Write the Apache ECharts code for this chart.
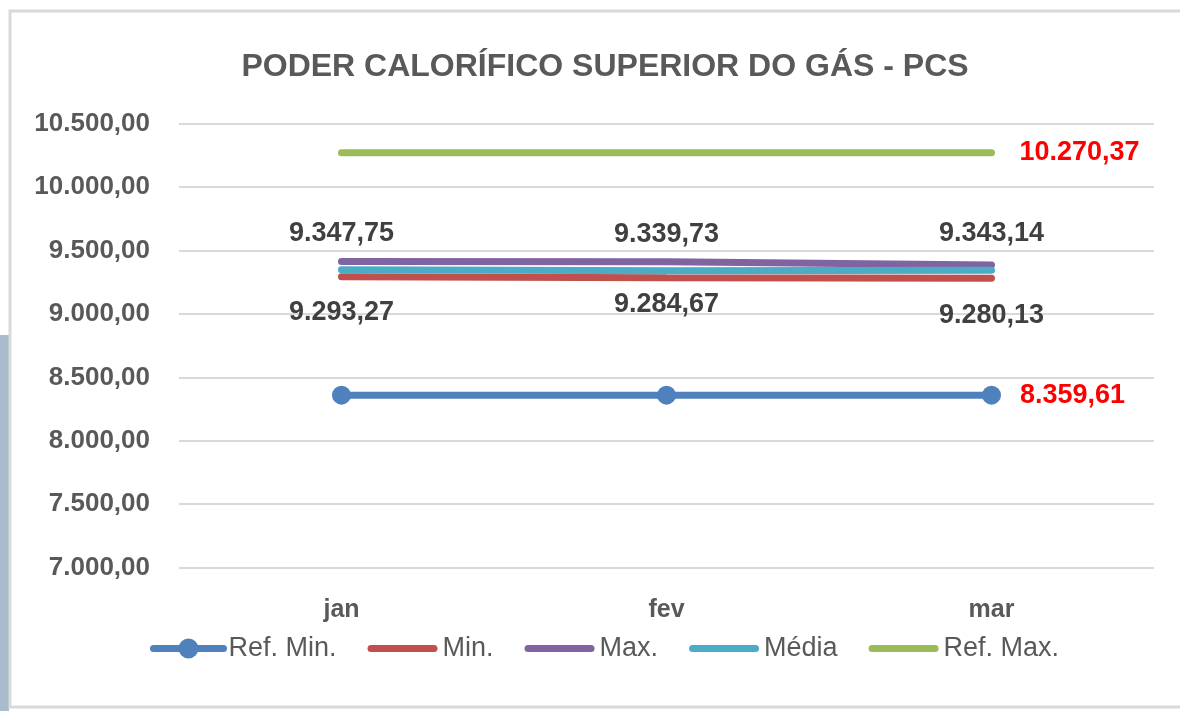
<!DOCTYPE html>
<html>
<head>
<meta charset="utf-8">
<script src="https://cdn.jsdelivr.net/npm/echarts@6/dist/echarts.min.js"></script>
<style>
  html, body { margin: 0; padding: 0; background: #fff; }
  #chart { width: 1180px; height: 711px; }
</style>
</head>
<body>
<div id="chart"></div>
<script>
// dados
const meses = ['jan', 'fev', 'mar'];
const refMin = [8359.61, 8359.61, 8359.61];
const minimo = [9293.27, 9284.67, 9280.13];
const maximo = [9412, 9410, 9385];
const media = [9347.75, 9339.73, 9343.14];
const refMax = [10270.37, 10270.37, 10270.37];
const yTicks = { min: 7000, max: 10500, interval: 500 };

// 10500 -> "10.500,00"
function fmt(v) {
  const parts = Number(v).toFixed(2).split('.');
  parts[0] = parts[0].replace(/\B(?=(\d{3})+(?!\d))/g, '.');
  return parts[0] + ',' + parts[1];
}

const textCor = '#595959';
const labelCor = '#404040';
const fonte = 'Liberation Sans, Arial, sans-serif';
// icone de legenda: so a linha grossa
const iconeLinha = 'path://M3.5,0 h63 a3.5,3.5 0 0,1 0,7 h-63 a3.5,3.5 0 0,1 0,-7 z';

const mychart = echarts.init(document.getElementById('chart'));

// distancia dos rotulos do Min. (o de fev fica mais alto)
const minDist = [21, 12, 23];

const rotulo = {
  formatter: p => fmt(p.value),
  fontFamily: fonte,
  fontWeight: 'bold',
  fontSize: 27,
  color: labelCor
};

const option = {
  animation: false,
  backgroundColor: '#fff',
  title: {
    text: 'PODER CALORÍFICO SUPERIOR DO GÁS - PCS',
    left: 600,
    textAlign: 'center',
    top: 46,
    textStyle: {
      fontFamily: fonte,
      fontWeight: 'bold',
      fontSize: 32,
      color: textCor
    }
  },
  graphic: [
    { type: 'rect', shape: { x: 0, y: 335, width: 9, height: 376 }, style: { fill: '#a8bccb' }, silent: true },
    { type: 'rect', shape: { x: 10, y: 11, width: 1180, height: 696 }, style: { fill: 'none', stroke: '#d9d9d9', lineWidth: 3 }, silent: true }
  ],
  grid: { left: 179, right: 26, top: 123.5, bottom: 143.3 },
  legend: {
    left: 150,
    top: 635,
    padding: 0,
    itemWidth: 70,
    itemHeight: 25,
    itemGap: 31,
    lineStyle: { width: 7, cap: 'round' },
    textStyle: { fontFamily: fonte, fontSize: 27, color: textCor },
    data: [
      { name: 'Ref. Min.' },
      { name: 'Min.', icon: iconeLinha },
      { name: 'Max.', icon: iconeLinha },
      { name: 'Média', icon: iconeLinha },
      { name: 'Ref. Max.', icon: iconeLinha }
    ]
  },
  xAxis: {
    type: 'category',
    data: meses,
    axisLine: { show: false },
    axisTick: { show: false },
    axisLabel: {
      margin: 30,
      fontFamily: fonte,
      fontWeight: 'bold',
      fontSize: 25,
      color: textCor
    }
  },
  yAxis: {
    type: 'value',
    min: yTicks.min,
    max: yTicks.max,
    interval: yTicks.interval,
    axisLine: { show: false },
    axisTick: { show: false },
    splitLine: { lineStyle: { color: '#d9d9d9', width: 2 } },
    axisLabel: {
      margin: 29,
      formatter: fmt,
      fontFamily: fonte,
      fontWeight: 'bold',
      fontSize: 26,
      color: textCor
    }
  },
  series: [
    {
      name: 'Ref. Min.',
      type: 'line',
      data: refMin.map((v, i) => ({
        value: v,
        label: { show: i === refMin.length - 1 }
      })),
      symbol: 'circle',
      symbolSize: 19,
      color: '#4f81bd',
      lineStyle: { width: 7, cap: 'round' },
      label: Object.assign({}, rotulo, { position: 'right', distance: 19, color: '#ff0000' }),
      z: 5
    },
    {
      name: 'Min.',
      type: 'line',
      data: minimo.map((v, i) => ({
        value: v,
        label: { distance: minDist[i] }
      })),
      symbol: 'circle',
      symbolSize: 2,
      color: '#c0504d',
      lineStyle: { width: 7, cap: 'round' },
      label: Object.assign({}, rotulo, { show: true, position: 'bottom' }),
      z: 2
    },
    {
      name: 'Max.',
      type: 'line',
      data: maximo,
      symbol: 'circle',
      symbolSize: 2,
      color: '#8064a2',
      lineStyle: { width: 7, cap: 'round' },
      z: 3
    },
    {
      name: 'Média',
      type: 'line',
      data: media,
      symbol: 'circle',
      symbolSize: 2,
      color: '#4bacc6',
      lineStyle: { width: 7, cap: 'round' },
      label: Object.assign({}, rotulo, { show: true, position: 'top', distance: 22 }),
      z: 4
    },
    {
      name: 'Ref. Max.',
      type: 'line',
      data: refMax.map((v, i) => ({
        value: v,
        label: { show: i === refMax.length - 1 }
      })),
      symbol: 'circle',
      symbolSize: 2,
      color: '#9bbb59',
      lineStyle: { width: 7, cap: 'round' },
      label: Object.assign({}, rotulo, { position: 'right', distance: 27, color: '#ff0000' }),
      z: 4
    }
  ]
};

mychart.setOption(option);
</script>
</body>
</html>
